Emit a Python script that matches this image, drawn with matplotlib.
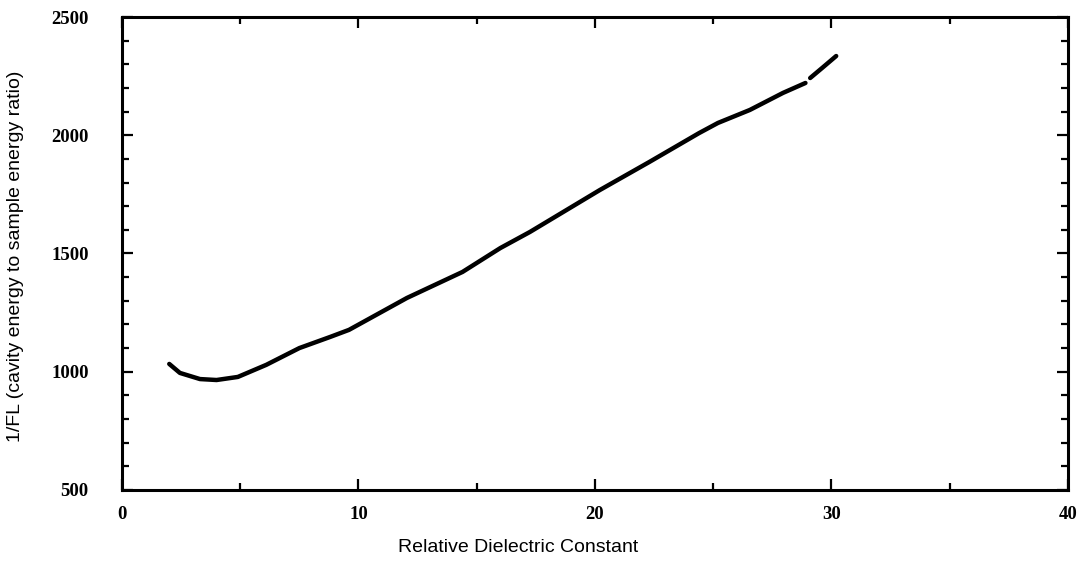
"""1/FL versus relative dielectric constant, redrawn from a scanned figure."""
import matplotlib
matplotlib.use("Agg")
import matplotlib.pyplot as plt
from matplotlib.ticker import MultipleLocator

# --- data (two segments: the trace has a small break near 29) ---
EPS_A = [2.0, 2.45, 3.3, 4.0, 4.9, 6.1, 7.5, 8.8, 9.6, 12.05, 14.4, 16.0, 17.25,
         20.2, 22.3, 24.4, 25.2, 26.55, 27.95, 28.9]
INV_FL_A = [1033, 995, 969, 965, 978, 1029, 1100, 1147, 1177, 1312, 1422, 1523, 1591,
            1768, 1887, 2009, 2052, 2107, 2179, 2221]
EPS_B = [29.1, 29.6, 30.0, 30.2]
INV_FL_B = [2242, 2284, 2318, 2335]

X_TICKS = [0, 10, 20, 30, 40]
Y_TICKS = [500, 1000, 1500, 2000, 2500]

TICK_FONT = dict(family="Liberation Serif", weight="bold", size=13.5)
LABEL_FONT = dict(family="Liberation Sans", size=14)

fig = plt.figure(figsize=(10.84, 5.63), dpi=100)
ax = fig.add_axes([0.1125, 0.1297, 0.8727, 0.8401])

ax.plot(EPS_A, INV_FL_A, color="black", lw=3.2, solid_capstyle="round",
        solid_joinstyle="round")
ax.plot(EPS_B, INV_FL_B, color="black", lw=3.2, solid_capstyle="round",
        solid_joinstyle="round")

ax.set_xlim(0, 40)
ax.set_ylim(500, 2500)
ax.set_xticks(X_TICKS, labels=[str(v) for v in X_TICKS], **TICK_FONT)
ax.set_yticks(Y_TICKS, labels=[str(v) for v in Y_TICKS], **TICK_FONT)
ax.xaxis.set_minor_locator(MultipleLocator(5))
ax.yaxis.set_minor_locator(MultipleLocator(100))

for s in ax.spines.values():
    s.set_linewidth(2.2)
ax.tick_params(which="both", direction="in", top=True, right=True, width=1.6, color="black")
ax.tick_params(which="major", length=8)
ax.tick_params(which="minor", length=5)
ax.tick_params(axis="x", which="major", pad=11.5)
ax.tick_params(axis="y", which="major", pad=24)

ax.set_xlabel("Relative Dielectric Constant", **LABEL_FONT)
ax.xaxis.set_label_coords(0.419, -0.104)
ax.set_ylabel("1/FL (cavity energy to sample energy ratio)", **LABEL_FONT)
ax.yaxis.set_label_coords(-0.1036, 0.495)

fig.savefig("out.png", dpi=100)
